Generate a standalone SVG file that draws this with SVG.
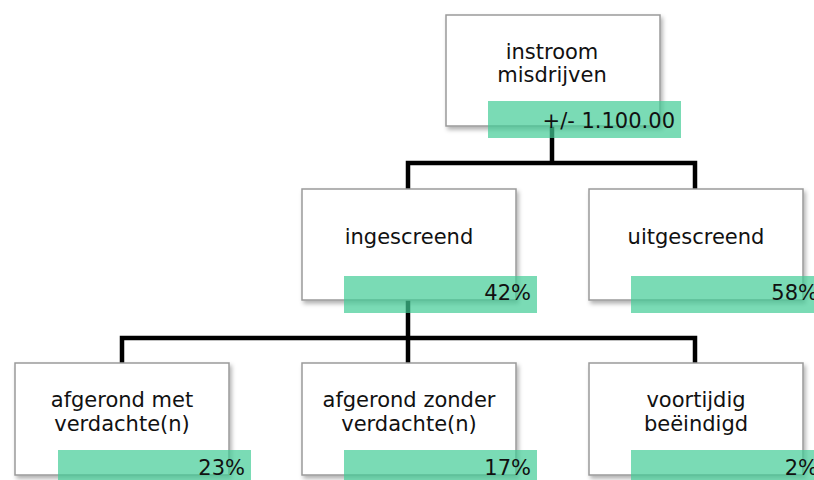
<svg xmlns="http://www.w3.org/2000/svg" width="814" height="480" viewBox="0 0 814 480">
<defs>
<filter id="sh" x="-10%" y="-10%" width="125%" height="130%">
<feDropShadow dx="2" dy="3" stdDeviation="2" flood-color="#000" flood-opacity="0.3"/>
</filter>
<style>
.box{fill:#fff;stroke:#9a9a9a;stroke-width:1.5;filter:url(#sh)}
.band{fill:#41cc95;fill-opacity:0.7}
.t{font-family:"DejaVu Sans",Verdana,sans-serif;font-size:21px;fill:#111;text-anchor:middle}
.p{font-family:"DejaVu Sans",Verdana,sans-serif;font-size:21px;fill:#111;text-anchor:end}
.c{fill:none;stroke:#000;stroke-width:4.5;stroke-linejoin:miter}
</style>
</defs>
<rect width="814" height="480" fill="#fff"/>
<g id="connectors">
<path class="c" d="M552 126 V163 M408 190 V163 H695 V190"/>
<path class="c" d="M408 300 V338 M122 364 V338 H695 V364 M408 338 V364"/>
</g>
<g id="n-instroom">
<rect class="box" x="446" y="15" width="214" height="111"/>
<text class="t" x="552" y="59">instroom</text>
<text class="t" x="552" y="82">misdrijven</text>
<rect class="band" x="488" y="101" width="193" height="37"/>
<text class="p" x="675" y="128">+/- 1.100.00</text>
</g>
<g id="n-ingescreend">
<rect class="box" x="302" y="189" width="214" height="111"/>
<text class="t" x="409" y="244">ingescreend</text>
<rect class="band" x="344" y="276" width="193" height="37"/>
<text class="p" x="531" y="300">42%</text>
</g>
<g id="n-uitgescreend">
<rect class="box" x="589" y="189" width="214" height="111"/>
<text class="t" x="696" y="244">uitgescreend</text>
<rect class="band" x="631" y="276" width="193" height="37"/>
<text class="p" x="818" y="300">58%</text>
</g>
<g id="n-afgerond-met">
<rect class="box" x="15" y="363" width="214" height="112"/>
<text class="t" x="122" y="407">afgerond met</text>
<text class="t" x="122" y="431">verdachte(n)</text>
<rect class="band" x="58" y="450" width="193" height="37"/>
<text class="p" x="245" y="475">23%</text>
</g>
<g id="n-afgerond-zonder">
<rect class="box" x="302" y="363" width="214" height="112"/>
<text class="t" x="409" y="407">afgerond zonder</text>
<text class="t" x="409" y="431">verdachte(n)</text>
<rect class="band" x="344" y="450" width="193" height="37"/>
<text class="p" x="531" y="475">17%</text>
</g>
<g id="n-voortijdig">
<rect class="box" x="589" y="363" width="214" height="112"/>
<text class="t" x="696" y="407">voortijdig</text>
<text class="t" x="696" y="431">beëindigd</text>
<rect class="band" x="631" y="450" width="193" height="37"/>
<text class="p" x="818" y="475">2%</text>
</g>
</svg>
